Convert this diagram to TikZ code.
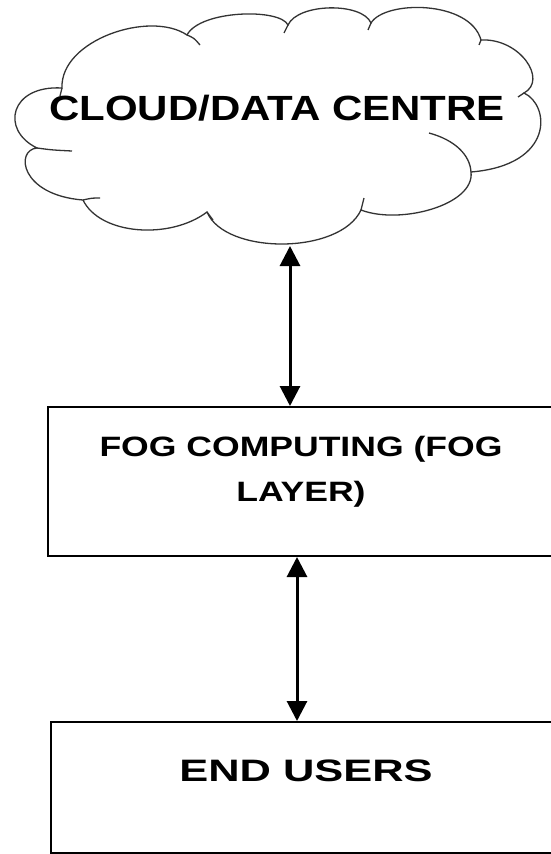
\documentclass[tikz,border=0pt]{standalone}
\usepackage{fontspec}
\setmainfont{Liberation Sans}
\newfontfamily\cloudfont[FakeStretch=1.2]{Liberation Sans}
\newfontfamily\fogfont[FakeStretch=1.27]{Liberation Sans}
\newfontfamily\userfont[FakeStretch=1.4]{Liberation Sans}
\usetikzlibrary{arrows.meta}
\begin{document}
\begin{tikzpicture}[x=1pt,y=-1pt,
  cloudline/.style={draw=black!80,line width=1.3pt},
  boxnode/.style={draw=black,line width=2pt,rectangle,inner sep=0pt},
  label/.style={inner sep=0pt,align=center,font=\bfseries},
  arr/.style={line width=3pt,{Triangle[width=20pt,length=20pt]}-{Triangle[width=20pt,length=20pt]}}]
\useasboundingbox (0,0) rectangle (551,854);
\fill[white] (0,0) rectangle (551,854);
% cloud outline
\draw[cloudline,fill=white] (62,88) .. controls (60,40) and (150,10) .. (187,35)
  .. controls (200,10) and (280,8) .. (288,25)
  .. controls (298,3) and (362,2) .. (371,23)
  .. controls (385,0) and (470,0) .. (481,40)
  .. controls (520,38) and (548,80) .. (524,93)
  .. controls (550,105) and (555,165) .. (471,172)
  .. controls (475,205) and (400,225) .. (361,210)
  .. controls (340,255) and (225,255) .. (207,212)
  .. controls (170,240) and (100,235) .. (83,200)
  .. controls (20,195) and (15,150) .. (37,148)
  .. controls (0,130) and (10,85) .. (62,88) -- cycle;
% inner hooks of the cloud
\draw[cloudline] (187,35) .. controls (194,38) .. (200,45);
\draw[cloudline] (288,25) .. controls (286,29) .. (284,33);
\draw[cloudline] (371,23) .. controls (369,27) .. (368,30);
\draw[cloudline] (481,40) .. controls (480,43) .. (479,45);
\draw[cloudline] (524,93) .. controls (521,95) .. (518,97);
\draw[cloudline] (429,133) .. controls (455,140) and (470,155) .. (471,172);
\draw[cloudline] (364,198) .. controls (363,204) .. (361,210);
\draw[cloudline] (207,212) .. controls (210,216) .. (213,220);
\draw[cloudline] (83,200) .. controls (92,198) .. (100,198);
\draw[cloudline] (37,148) .. controls (52,150) .. (72,151);
\draw[cloudline] (62,88) .. controls (61,92) .. (60,96);
\node[label,font=\cloudfont\bfseries\fontsize{35}{40}\selectfont] (cloud) at (277,108) {CLOUD/DATA CENTRE};
\coordinate (cb) at (290,246);
% fog layer
\node[boxnode,minimum width=506pt,minimum height=149pt] (fog) at (301,481.5) {};
\node[label,font=\fogfont\bfseries\fontsize{28}{45}\selectfont] (fogtext) at (301,472) {FOG COMPUTING (FOG\\LAYER)};
% end users
\node[boxnode,minimum width=503pt,minimum height=131pt] (users) at (302.5,787.5) {};
\node[label,font=\userfont\bfseries\fontsize{31}{36}\selectfont] (userstext) at (306,771) {END USERS};
% connectors
\coordinate (a2) at (297,0);
\draw[arr] (cb) -- (cb |- fog.north);
\draw[arr] (a2 |- fog.south) -- (a2 |- users.north);
\end{tikzpicture}
\end{document}
